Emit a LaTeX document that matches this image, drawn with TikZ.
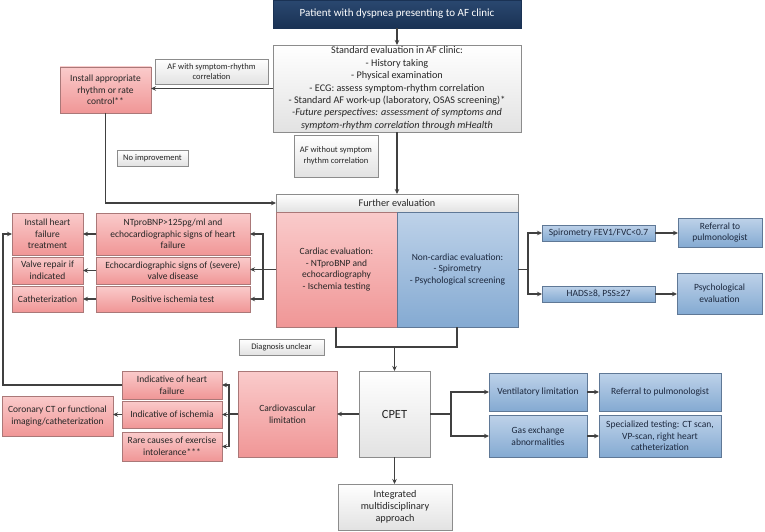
\documentclass[tikz,border=0pt]{standalone}
\usepackage{fontspec}
\setmainfont{Carlito}
\usetikzlibrary{arrows.meta}
\definecolor{redtop}{RGB}{250,203,203}
\definecolor{redbot}{RGB}{240,150,150}
\definecolor{reddraw}{RGB}{170,120,120}
\definecolor{bluetop}{RGB}{190,210,233}
\definecolor{bluebot}{RGB}{132,170,210}
\definecolor{bluedraw}{RGB}{95,120,150}
\definecolor{graybot}{RGB}{226,226,226}
\definecolor{graydraw}{RGB}{140,140,140}
\definecolor{navytop}{RGB}{42,72,112}
\definecolor{navybot}{RGB}{26,50,84}
\definecolor{linec}{RGB}{64,64,64}
\definecolor{txt}{RGB}{38,38,38}
\definecolor{bluetxt}{RGB}{28,40,62}
\newcommand\BX[7]{\node[#1,minimum width={(#5-#3)*1pt},minimum height={(#6-#4)*1pt}] (#2) at ({(#3+#5)/2},{(#4+#6)/2}) {#7};}
\begin{document}
\begin{tikzpicture}[x=1pt,y=-1pt,
  boxbase/.style={draw, line width=0.6pt, inner sep=1pt, outer sep=0pt, align=center, font=\fontsize{9.5}{11.6}\selectfont, text=txt},
  redbox/.style={boxbase, draw=reddraw, top color=redtop, bottom color=redbot},
  bluebox/.style={boxbase, draw=bluedraw, top color=bluetop, bottom color=bluebot, text=bluetxt},
  graybox/.style={boxbase, draw=graydraw, top color=white, bottom color=graybot},
  lbl/.style={graybox, font=\fontsize{8.5}{10.6}\selectfont},
  titlebox/.style={boxbase, draw=navybot, top color=navytop, bottom color=navybot, text=white, font=\fontsize{11}{13}\selectfont},
  conn/.style={draw=linec, line width=1.1pt, -{Stealth[length=5pt,width=4.5pt]}},
  plain/.style={draw=linec, line width=1.1pt}]
\useasboundingbox (0,0) rectangle (765,532);
\fill[white] (0,0) rectangle (765,532);
% boxes
\BX{titlebox}{title}{273}{0}{521}{28}{Patient with dyspnea presenting to AF clinic}
\BX{graybox,font=\fontsize{10.2}{12.4}\selectfont}{std}{273}{45}{521}{132}{Standard evaluation in AF clinic:\\- History taking\\- Physical examination\\- ECG: assess symptom-rhythm correlation\\- Standard AF work-up (laboratory, OSAS screening)*\\\textit{-Future perspectives: assessment of symptoms and}\\\textit{symptom-rhythm correlation through mHealth}}
\BX{lbl}{afwith}{155}{59}{268}{84}{AF with symptom-rhythm\\correlation}
\BX{redbox}{install}{60}{67}{151}{113}{Install appropriate\\rhythm or rate\\control**}
\BX{lbl}{noimp}{117}{150}{188}{166}{No improvement}
\BX{lbl}{afwithout}{294}{135}{378}{177}{AF without symptom\\rhythm correlation}
\BX{graybox,font=\fontsize{10.2}{12}\selectfont}{further}{276}{194}{518}{212}{Further evaluation}
\BX{redbox}{cardiac}{276}{212}{397}{327}{Cardiac evaluation:\\- NTproBNP and\\echocardiography\\- Ischemia testing}
\BX{bluebox}{noncardiac}{397}{212}{518}{327}{Non-cardiac evaluation:\\- Spirometry\\- Psychological screening}
\BX{redbox}{ntpro}{96}{213}{250}{255}{NTproBNP>125pg/ml and\\echocardiographic signs of heart\\failure}
\BX{redbox}{echo}{96}{257}{250}{284}{Echocardiographic signs of (severe)\\valve disease}
\BX{redbox}{posisch}{96}{286}{250}{312}{Positive ischemia test}
\BX{redbox}{ihft}{12}{213}{83}{255}{Install heart\\failure\\treatment}
\BX{redbox}{valve}{12}{257}{83}{284}{Valve repair if\\indicated}
\BX{redbox}{cath}{12}{286}{83}{312}{Catheterization}
\BX{bluebox}{spiro}{542}{225}{655}{241}{Spirometry FEV1/FVC<0.7}
\BX{bluebox}{hads}{542}{286}{655}{302}{HADS≥8, PSS≥27}
\BX{bluebox}{ref1}{678}{218}{762}{247}{Referral to\\pulmonologist}
\BX{bluebox}{psych}{677}{273}{762}{314}{Psychological\\evaluation}
\BX{lbl}{diag}{239}{339}{324}{355}{Diagnosis unclear}
\BX{redbox}{cvlim}{238}{371}{337}{457}{Cardiovascular\\limitation}
\BX{graybox,font=\fontsize{12.5}{14}\selectfont}{cpet}{359}{371}{430}{457}{CPET}
\BX{redbox}{indhf}{122}{371}{222}{399}{Indicative of heart\\failure}
\BX{redbox}{indisch}{122}{401}{222}{428}{Indicative of ischemia}
\BX{redbox}{rare}{122}{432}{222}{461}{Rare causes of exercise\\intolerance***}
\BX{redbox}{coronary}{2}{396}{113}{436}{Coronary CT or functional\\imaging/catheterization}
\BX{bluebox}{vent}{489}{373}{587}{411}{Ventilatory limitation}
\BX{bluebox}{gas}{489}{415}{587}{457}{Gas exchange\\abnormalities}
\BX{bluebox}{ref2}{599}{373}{721}{411}{Referral to pulmonologist}
\BX{bluebox}{spec}{599}{415}{721}{457}{Specialized testing: CT scan,\\VP-scan, right heart\\catheterization}
\BX{graybox,font=\fontsize{10.2}{12.2}\selectfont}{integ}{338}{484}{452}{530}{Integrated\\multidisciplinary\\approach}
% junction coordinates
\coordinate (lb) at (263,269.5);
\coordinate (rb) at (528,269.5);
\coordinate (bl) at (336,347);
\coordinate (br) at (457,347);
\coordinate (cb) at (229,414);
\coordinate (lft) at (3,234);
\coordinate (cpb) at (451,414);
% connectors
\draw[conn] (title) -- (std);
\draw[conn] (std.west) -- (std.west -| install.east);
\draw[conn] (std) -- (further);
\draw[conn] (install.south) |- (further.west);
\draw[conn] (cardiac.west) -- (cardiac.west -| echo.east);
\draw[conn] (lb) |- (ntpro.east);
\draw[conn] (lb) |- (posisch.east);
\draw[conn] (ntpro.west) -- (ihft.east);
\draw[conn] (echo.west) -- (valve.east);
\draw[conn] (posisch.west) -- (cath.east);
\draw[plain] (noncardiac.east) -- (rb);
\draw[conn] (rb) |- (spiro.west);
\draw[conn] (rb) |- (hads.west);
\draw[conn] (spiro.east) -- (spiro.east -| ref1.west);
\draw[conn] (hads.east) -- (hads.east -| psych.west);
\draw[plain] (bl |- cardiac.south) -- (bl) -- (br) -- (br |- noncardiac.south);
\draw[conn] (bl -| cpet.north) -- (cpet.north);
\draw[conn] (cpet.west) -- (cvlim.east);
\draw[plain] (cvlim.west) -- (cb);
\draw[conn] (cb) |- (indhf.east);
\draw[conn] (cb) |- (indisch.east);
\draw[conn] (cb) |- (rare.east);
\draw[conn] (indisch.west) -- (indisch.west -| coronary.east);
\draw[conn] (indhf.west) -| (lft) -- (ihft.west);
\draw[plain] (cpet.east) -- (cpb);
\draw[conn] (cpb) |- (vent.west);
\draw[conn] (cpb) |- (gas.west);
\draw[conn] (vent.east) -- (ref2.west);
\draw[conn] (gas.east) -- (spec.west);
\draw[conn] (cpet.south) -- (cpet.south |- integ.north);
\end{tikzpicture}
\end{document}
